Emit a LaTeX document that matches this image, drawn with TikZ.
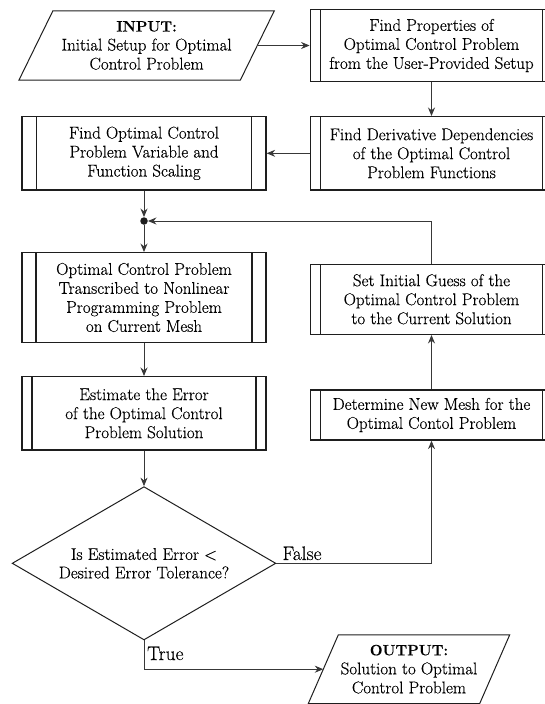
\documentclass[tikz,border=0pt]{standalone}
\usepackage{fontspec}
\setmainfont{Latin Modern Roman}[FakeBold=0.35]
\usetikzlibrary{arrows.meta,shapes.geometric}
\definecolor{linec}{HTML}{1E1E1E}
\definecolor{arrc}{HTML}{383838}
\newcommand\mainfs{\fontsize{17}{19}\selectfont}
\newcommand\decfs{\fontsize{17}{18.5}\selectfont}
\newcommand\lblfs{\fontsize{19.5}{21}\selectfont}
\newcommand\headfs{\fontsize{15}{19}\selectfont\bfseries}
\tikzset{
  boxline/.style={draw=linec, line width=1.3pt},
  ioline/.style={draw=linec, line width=1pt, line join=miter},
  procbox/.style={boxline, rectangle, align=center, inner sep=0pt, font=\mainfs,
    path picture={\draw[linec, line width=1.2pt]
      ([xshift=#1]path picture bounding box.north west) -- ([xshift=#1]path picture bounding box.south west)
      ([xshift=-#1]path picture bounding box.north east) -- ([xshift=-#1]path picture bounding box.south east);}},
  iobox/.style={rectangle, align=center, inner sep=0pt, font=\mainfs},
  decbox/.style={diamond, aspect=1.72, draw=linec, line width=1pt, align=center, inner sep=0pt, font=\decfs},
  arr/.style={draw=arrc, line width=0.85pt, -{Stealth[length=8.5pt,width=7pt]}},
  lbl/.style={font=\lblfs, inner sep=0pt},
  junction/.style={circle, fill=linec, inner sep=0pt, minimum size=7.5pt},
}
\begin{document}
\begin{tikzpicture}[x=1pt,y=-1pt]
\useasboundingbox (0,0) rectangle (545,704);
\clip (0,0) rectangle (545,704);
% input / output parallelograms
\node[iobox, minimum width=221pt, minimum height=69pt] (in) at (146.6,45.5)
  {{\headfs INPUT:}\\Initial Setup for Optimal\\Control Problem};
\draw[ioline] ([xshift=17pt]in.north west) -- ([xshift=17pt]in.north east)
  -- ([xshift=-17pt]in.south east) -- ([xshift=-17pt]in.south west) -- cycle;
\node[iobox, minimum width=171pt, minimum height=68.3pt] (out) at (409,669.2)
  {{\headfs OUTPUT:}\\Solution to Optimal\\Control Problem};
\draw[ioline] ([xshift=15pt]out.north west) -- ([xshift=15pt]out.north east)
  -- ([xshift=-15pt]out.south east) -- ([xshift=-15pt]out.south west) -- cycle;
% process boxes
\node[procbox=10pt, minimum width=242.5pt, minimum height=72.4pt] (props) at (431.5,45.5)
  {Find Properties of\\Optimal Control Problem\\from the User-Provided Setup};
\node[procbox=10pt, minimum width=242.5pt, minimum height=73.3pt] (deriv) at (431.5,153.3)
  {Find Derivative Dependencies\\of the Optimal Control\\Problem Functions};
\node[procbox=14.3pt, minimum width=244pt, minimum height=73.3pt] (scale) at (144,153.3)
  {Find Optimal Control\\Problem Variable and\\Function Scaling};
\node[junction] (dot) at (144,221) {};
\node[procbox=14pt, minimum width=244pt, minimum height=89.6pt] (trans) at (144,297.5)
  {Optimal Control Problem\\Transcribed to Nonlinear\\Programming Problem\\on Current Mesh};
\node[procbox=10pt, minimum width=244pt, minimum height=73.3pt] (est) at (144,413.3)
  {Estimate the Error\\of the Optimal Control\\Problem Solution};
\node[procbox=10pt, minimum width=242.5pt, minimum height=70pt] (guess) at (431.5,299.3)
  {Set Initial Guess of the\\Optimal Control Problem\\to the Current Solution};
\node[procbox=10pt, minimum width=242.5pt, minimum height=50pt] (mesh) at (431.5,415)
  {Determine New Mesh for the\\Optimal Contol Problem};
\node[decbox, minimum width=263.7pt, minimum height=153.3pt] (dec) at (144,563.3)
  {Is Estimated Error \textless\\Desired Error Tolerance?};
% labels
\node[lbl, anchor=west] (falselbl) at ([xshift=6pt,yshift=10pt]dec.east) {False};
\node[lbl, anchor=west] (truelbl) at ([xshift=3pt,yshift=-13pt]dec.south) {True};
% connectors
\draw[arr] (in.east) -- (props.west);
\draw[arr] (props.south) -- (deriv.north);
\draw[arr] (deriv.west) -- (scale.east);
\draw[arr] (scale.south) -- (dot.north);
\draw[arr] (dot.south) -- (trans.north);
\draw[arr] (guess.north) |- (dot.east);
\draw[arr] (trans.south) -- (est.north);
\draw[arr] (est.south) -- (dec.north);
\draw[arr] (mesh.north) -- (guess.south);
\draw[arr] (dec.east) -| (mesh.south);
\draw[arr] (dec.south) |- (out.west);
\end{tikzpicture}
\end{document}
